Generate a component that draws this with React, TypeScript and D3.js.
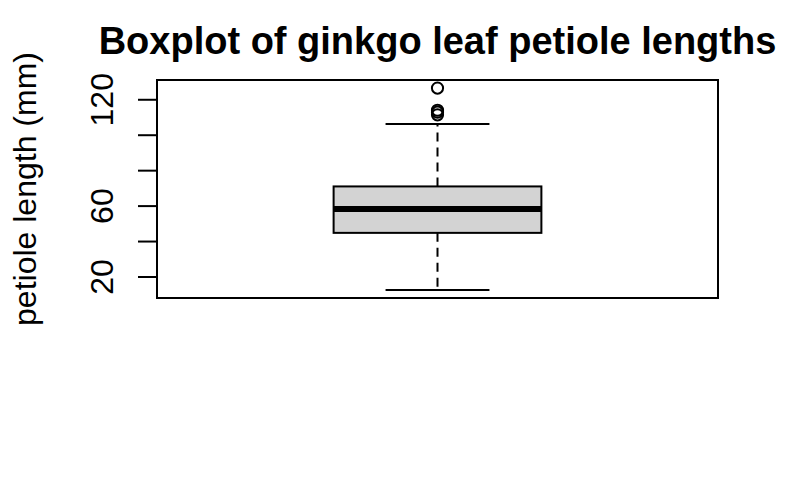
import React, { useRef, useEffect } from 'react';
import * as d3 from 'd3';

// five-number summary: lower whisker, Q1, median, Q3, upper whisker
const boxStats = [12.7, 44.9, 58.3, 71.1, 106.3];
const outliers = [126.6, 114.1, 113.0, 111.5];
const yTicks = [20, 40, 60, 80, 100, 120];
const yTickLabels = ['20', '60', '120'];

const W = 800;
const H = 494;
const FONT = "'Liberation Sans', Arial, Helvetica, sans-serif";

const App = () => {
  const svgRef = useRef<SVGSVGElement>(null);

  useEffect(() => {
    const svg = d3.select(svgRef.current);
    svg.selectAll('*').remove();

    const left = 157;
    const right = 718;
    const top = 80;
    const bottom = 298;

    // R style 4% extension of the data range
    const all = [...boxStats, ...outliers];
    const lo = d3.min(all) as number;
    const hi = d3.max(all) as number;
    const pad = (hi - lo) * 0.04;

    const y = d3.scaleLinear().domain([lo - pad, hi + pad]).range([bottom, top]);
    const x = d3.scaleLinear().domain([0.46, 1.54]).range([left, right]);

    const [wLo, q1, med, q3, wHi] = boxStats;
    const cx = x(1);

    // whiskers
    svg.append('line')
      .attr('x1', cx).attr('x2', cx)
      .attr('y1', y(q3)).attr('y2', y(wHi))
      .attr('stroke', '#000').attr('stroke-width', 2)
      .attr('stroke-dasharray', '9,6');
    svg.append('line')
      .attr('x1', cx).attr('x2', cx)
      .attr('y1', y(q1)).attr('y2', y(wLo))
      .attr('stroke', '#000').attr('stroke-width', 2)
      .attr('stroke-dasharray', '9,6');

    // staples
    [wLo, wHi].forEach(v => {
      svg.append('line')
        .attr('x1', x(0.9)).attr('x2', x(1.1))
        .attr('y1', y(v)).attr('y2', y(v))
        .attr('stroke', '#000').attr('stroke-width', 2);
    });

    // box
    svg.append('rect')
      .attr('x', x(0.8))
      .attr('y', y(q3))
      .attr('width', x(1.2) - x(0.8))
      .attr('height', y(q1) - y(q3))
      .attr('fill', '#d3d3d3')
      .attr('stroke', '#000')
      .attr('stroke-width', 2);

    // median
    svg.append('line')
      .attr('x1', x(0.8)).attr('x2', x(1.2))
      .attr('y1', y(med)).attr('y2', y(med))
      .attr('stroke', '#000').attr('stroke-width', 6);

    // outliers
    svg.selectAll('.outlier')
      .data(outliers)
      .join('circle')
      .attr('class', 'outlier')
      .attr('cx', cx)
      .attr('cy', d => y(d))
      .attr('r', 5.6)
      .attr('fill', 'none')
      .attr('stroke', '#000')
      .attr('stroke-width', 2);

    // frame
    svg.append('rect')
      .attr('x', left).attr('y', top)
      .attr('width', right - left).attr('height', bottom - top)
      .attr('fill', 'none')
      .attr('stroke', '#000')
      .attr('stroke-width', 2);

    // y axis
    svg.append('line')
      .attr('x1', left).attr('x2', left)
      .attr('y1', y(yTicks[0])).attr('y2', y(yTicks[yTicks.length - 1]))
      .attr('stroke', '#000').attr('stroke-width', 2);

    svg.selectAll('.tick')
      .data(yTicks)
      .join('line')
      .attr('class', 'tick')
      .attr('x1', left - 19).attr('x2', left)
      .attr('y1', d => y(d)).attr('y2', d => y(d))
      .attr('stroke', '#000').attr('stroke-width', 2);

    svg.selectAll('.ticklabel')
      .data(yTickLabels)
      .join('text')
      .attr('class', 'ticklabel')
      .attr('transform', d => `translate(112.5,${y(+d)}) rotate(-90)`)
      .attr('text-anchor', 'middle')
      .attr('font-family', FONT)
      .attr('font-size', 32)
      .text(d => d);

    // axis title
    svg.append('text')
      .attr('transform', `translate(36,${(top + bottom) / 2}) rotate(-90)`)
      .attr('text-anchor', 'middle')
      .attr('font-family', FONT)
      .attr('font-size', 32)
      .text('petiole length (mm)');

    // main title
    svg.append('text')
      .attr('x', (left + right) / 2)
      .attr('y', 54)
      .attr('text-anchor', 'middle')
      .attr('font-family', FONT)
      .attr('font-weight', 'bold')
      .attr('font-size', 38)
      .text('Boxplot of ginkgo leaf petiole lengths');
  }, []);

  return (
    <svg
      ref={svgRef}
      width={W}
      height={H}
      style={{ position: 'absolute', left: 0, top: 0, background: '#fff' }}
    />
  );
};

export default App;
